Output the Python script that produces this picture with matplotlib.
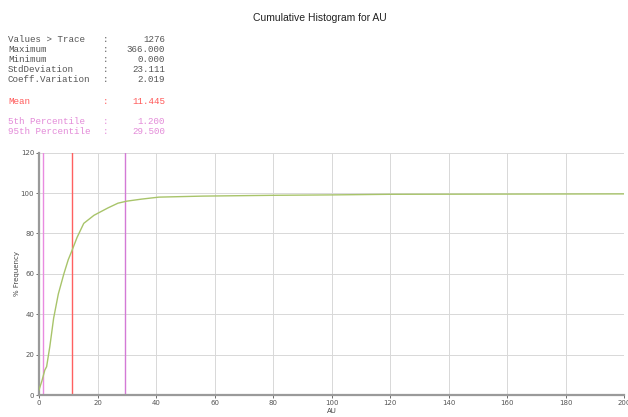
import matplotlib
matplotlib.use("Agg")
import matplotlib.pyplot as plt

# cumulative curve (AU value, % frequency)
au = [0, 1.0, 2.0, 2.6, 3.7, 5.0, 6.6, 8.5, 10.0, 11.4, 13.0, 15.3, 18.8, 23.5, 27.0,
      30.0, 35.0, 41.0, 56.0, 80.0, 100.0, 120.0, 160.0, 200.0]
freq = [2.5, 7.0, 12.4, 14.0, 24.0, 38.0, 50.0, 60.0, 67.0, 72.0, 78.0, 85.0, 89.0,
        92.6, 95.0, 96.0, 97.0, 98.0, 98.5, 98.9, 99.1, 99.4, 99.5, 99.6]

mean_v = 11.445
p5 = 1.2
p95 = 29.5

stat_names = ["Values > Trace", "Maximum", "Minimum", "StdDeviation", "Coeff.Variation"]
stat_vals = ["1276", "366.000", "0.000", "23.111", "2.019"]

fig = plt.figure(figsize=(6.28, 4.17), dpi=100)
W, H = 628, 417
ax = fig.add_axes([39 / W, 1 - 395 / H, (624 - 39) / W, (395 - 152.7) / H])

# vertical markers
ax.axvline(p5, color="#e98be0", lw=1.0, zorder=2)
ax.axvline(mean_v, color="#ff6060", lw=1.0, zorder=2)
ax.axvline(p95, color="#d37ad6", lw=1.0, zorder=2)

ax.plot(au, freq, color="#a8c46a", lw=1.0, zorder=3)

ax.set_xlim(0, 200)
ax.set_ylim(0, 120)
ax.set_xticks(range(0, 201, 20))
ax.set_yticks(range(0, 121, 20))
ax.grid(True, color="#d8d8d8", lw=0.7)
ax.set_axisbelow(True)
for s in ["top", "right"]:
    ax.spines[s].set_visible(False)
for s in ["left", "bottom"]:
    ax.spines[s].set_color("#9a9a9a")
    ax.spines[s].set_linewidth(1.6)
ax.tick_params(labelsize=5, colors="#555555", length=2, width=0.6, pad=1.5)
ax.set_xlabel("AU", fontsize=5, color="#444444")
ax.set_ylabel("% Frequency", fontsize=5, color="#444444")
ax.xaxis.set_label_coords(0.5, -(411 - 395) / (395 - 152.7), transform=ax.transAxes)
ax.yaxis.set_label_coords(-(39 - 17) / (624 - 39), 0.5, transform=ax.transAxes)
ax.xaxis.label.set_va("center")
ax.yaxis.label.set_va("center")

fig.text(320 / W, 1 - 18 / H, "Cumulative Histogram for AU", ha="center", va="center",
         fontsize=7.5, family="Liberation Sans", color="#222222")

mono = "Liberation Mono"
fs = 6.6
y0 = 39
for i, (n, v) in enumerate(zip(stat_names, stat_vals)):
    y = 1 - (y0 + i * 10.2) / H
    fig.text(8 / W, y, n, fontsize=fs, family=mono, color="#555555", va="center")
    fig.text(103 / W, y, ":", fontsize=fs, family=mono, color="#555555", va="center")
    fig.text(165 / W, y, v, fontsize=fs, family=mono, color="#555555", va="center", ha="right")

rows = [("Mean", "11.445", "#ff5a5a", 101), ("5th Percentile", "1.200", "#e38ad8", 122),
        ("95th Percentile", "29.500", "#e38ad8", 132)]
for n, v, c, yy in rows:
    y = 1 - yy / H
    fig.text(8 / W, y, n, fontsize=fs, family=mono, color=c, va="center")
    fig.text(103 / W, y, ":", fontsize=fs, family=mono, color=c, va="center")
    fig.text(165 / W, y, v, fontsize=fs, family=mono, color=c, va="center", ha="right")

fig.savefig("out.png", dpi=100)
